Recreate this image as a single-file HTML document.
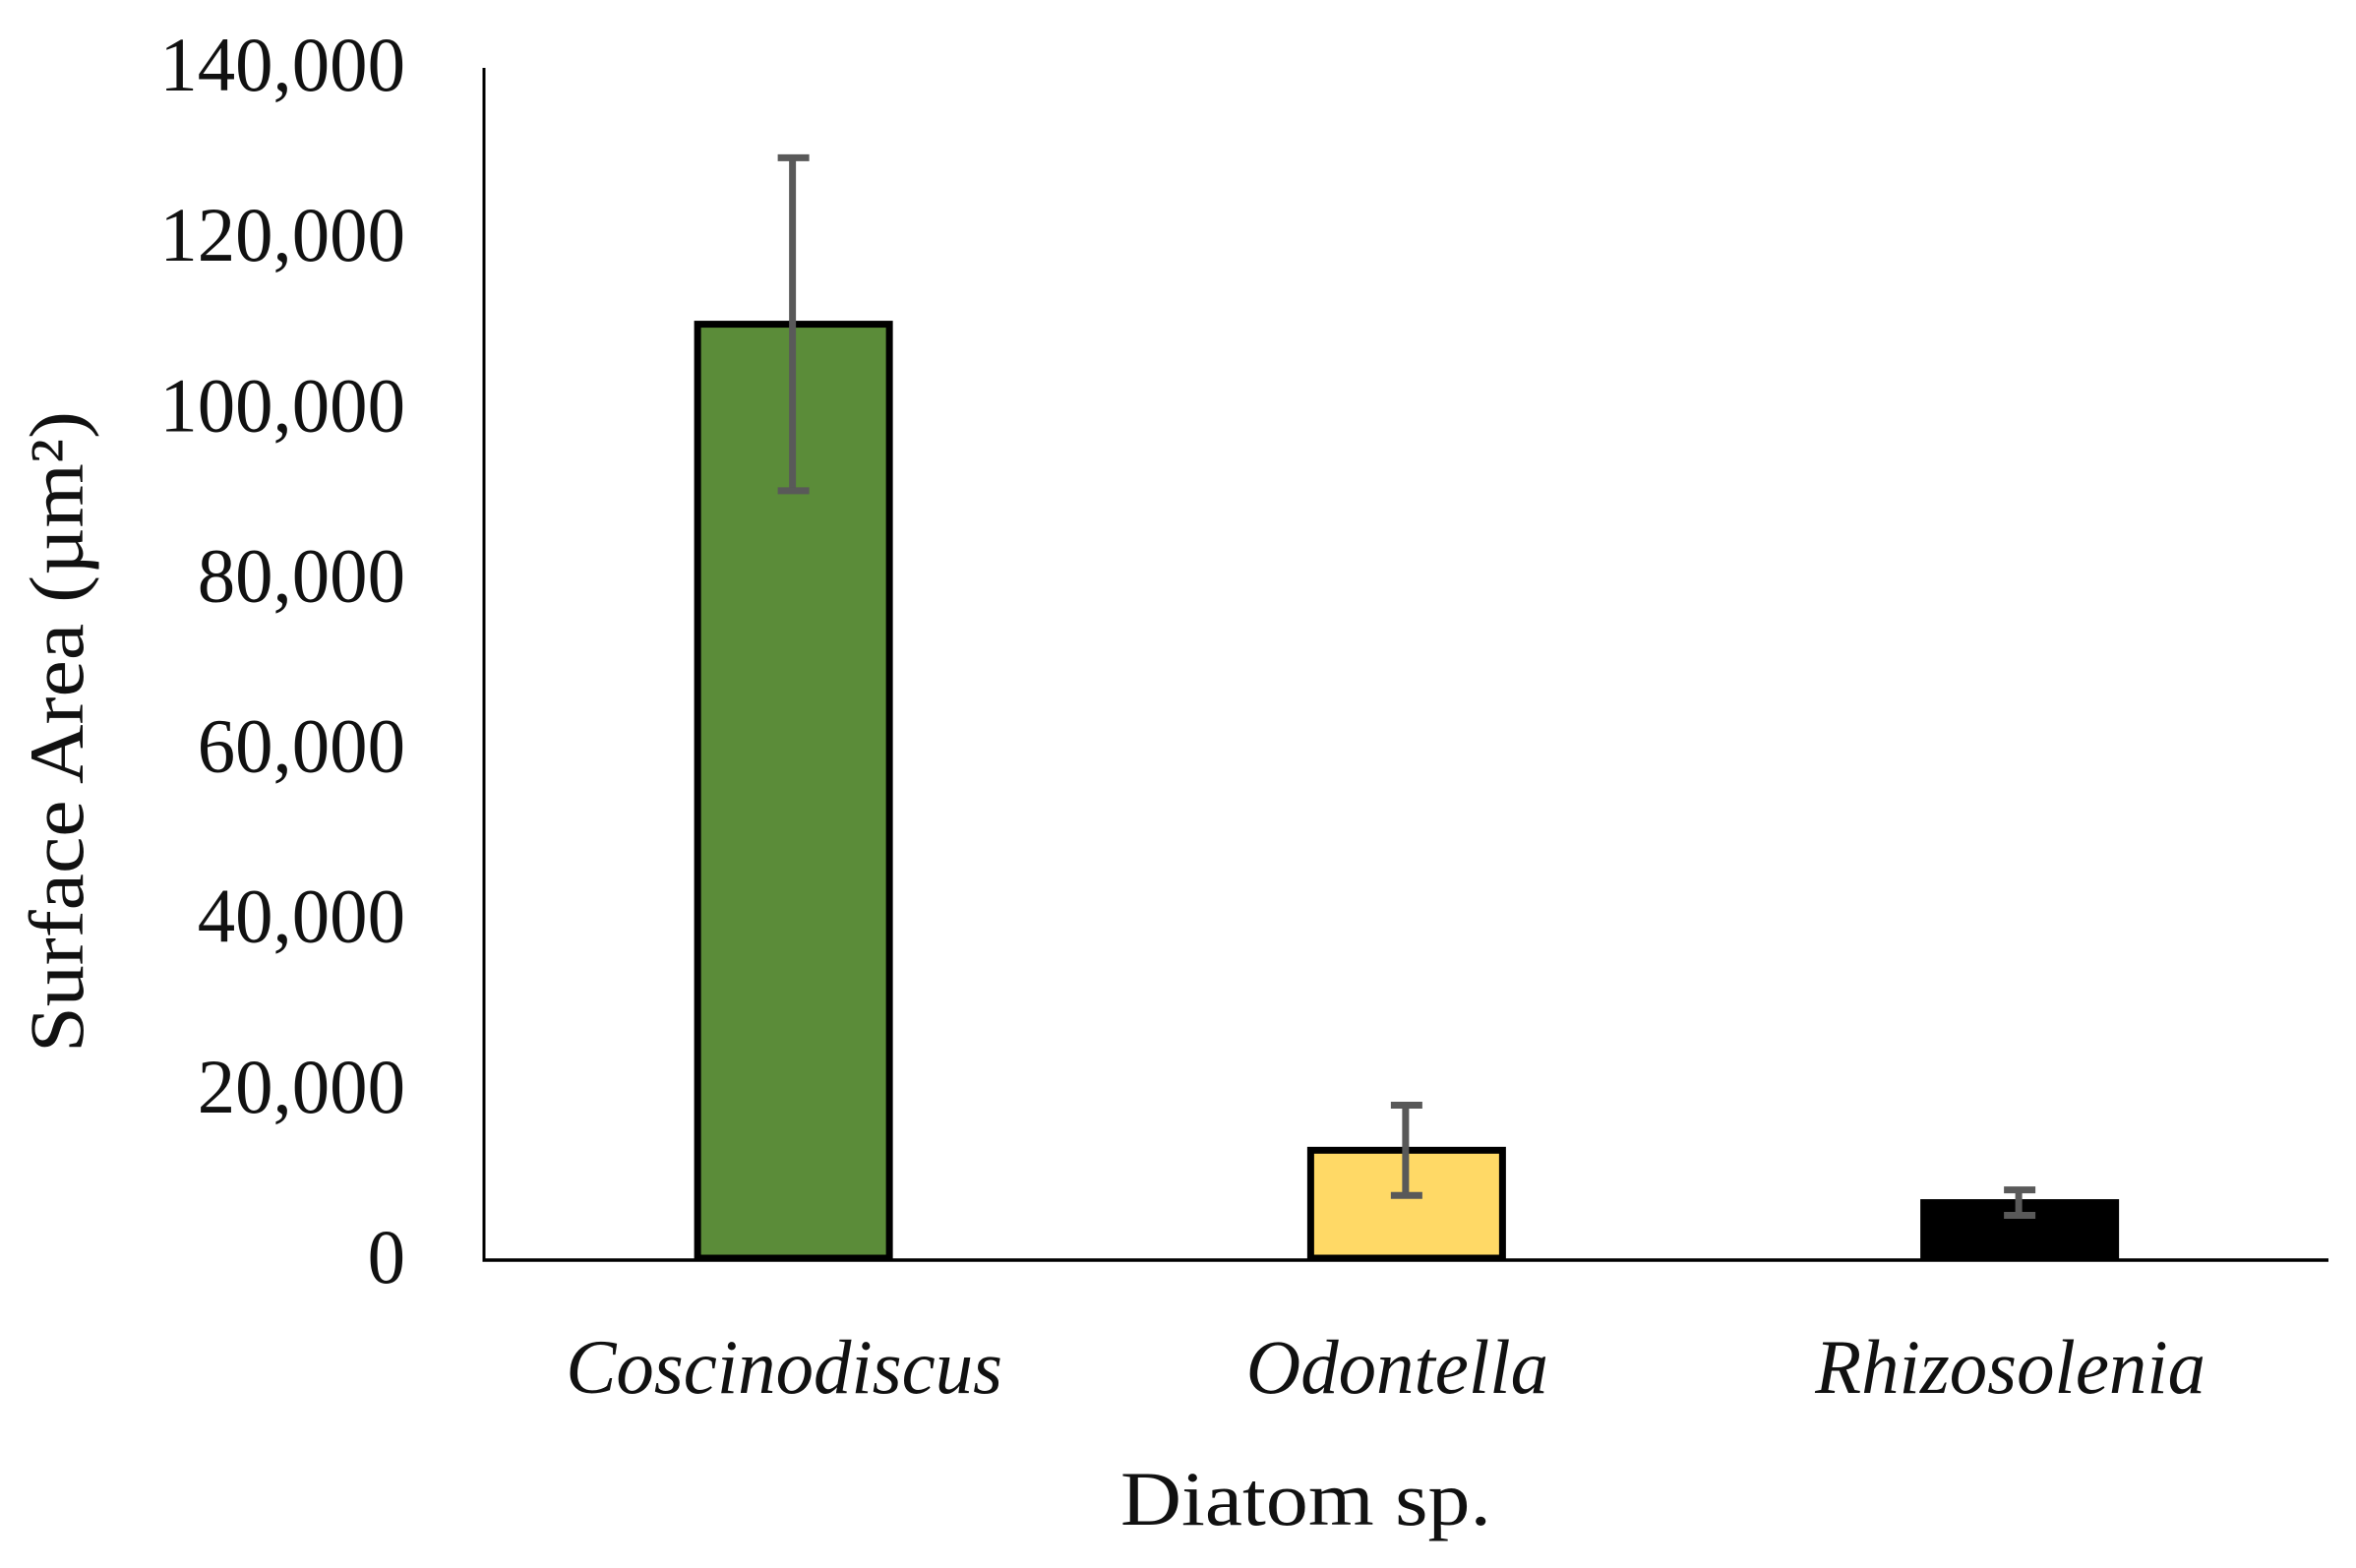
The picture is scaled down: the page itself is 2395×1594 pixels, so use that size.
<!DOCTYPE html>
<html lang="en">
<head>
<meta charset="utf-8">
<title>Diatom surface area</title>
<style>
  html, body { margin: 0; padding: 0; background: #ffffff; }
  #chart { display: block; width: 2395px; height: 1594px; }
  text { font-family: "Liberation Serif", serif; fill: #111111; font-size: 78px; }
</style>
</head>
<body>
<svg id="chart" xmlns="http://www.w3.org/2000/svg" width="2395" height="1594" viewBox="0 0 2395 1594"></svg>
<script>
const categories = ["Coscinodiscus", "Odontella", "Rhizosolenia"];
const meanValues = [109900, 12900, 6750];
const errorValues = [19550, 5300, 1500];
const tickValues = [0, 20000, 40000, 60000, 80000, 100000, 120000, 140000];
const tickLabels = ["0", "20,000", "40,000", "60,000", "80,000", "100,000", "120,000", "140,000"];

const barFills = ["#5b8c39", "#ffd966", "#000000"];
const plot = { left: 492, right: 2367, top: 69, bottom: 1281, max: 140000, bandStart: 495, bandWidth: 623.25 };
const svg = document.getElementById("chart");
const NS = "http://www.w3.org/2000/svg";

function yScale(v) {
  return plot.bottom - (v / plot.max) * (plot.bottom - plot.top);
}
function xCenter(i) {
  return plot.bandStart + (i + 0.5) * plot.bandWidth;
}
function make(tag, attrs, parent) {
  const el = document.createElementNS(NS, tag);
  for (const k in attrs) el.setAttribute(k, attrs[k]);
  (parent || svg).appendChild(el);
  return el;
}
function slug(s) {
  return s.toLowerCase().replace(/[^a-z0-9]+/g, "-");
}

/* bars (below the axis line) */
categories.forEach(function (name, i) {
  const c = xCenter(i);
  const top = yScale(meanValues[i]);
  const bar = make("rect", {
    x: c - 97.5, y: top, width: 195, height: plot.bottom - 2 - top,
    fill: barFills[i], stroke: "#000000", "stroke-width": 7
  });
  
  
});

/* axes */
const yAxis = make("line", { x1: plot.left, x2: plot.left, y1: plot.top, y2: plot.bottom + 1.5, stroke: "#000000", "stroke-width": 3 });


const xAxis = make("line", { x1: plot.left - 1.5, x2: plot.right, y1: plot.bottom, y2: plot.bottom, stroke: "#000000", "stroke-width": 3.5 });



/* error bars */
categories.forEach(function (name, i) {
  const c = xCenter(i);
  const hi = yScale(meanValues[i] + errorValues[i]);
  const lo = yScale(meanValues[i] - errorValues[i]);
  const capHalf = 16;
  const g = make("g", { stroke: "#595959", "stroke-width": 7, fill: "none" });
  
  
  make("line", { x1: c - 1, x2: c - 1, y1: hi, y2: lo }, g);
  make("line", { x1: c - capHalf, x2: c + capHalf, y1: hi, y2: hi }, g);
  make("line", { x1: c - capHalf, x2: c + capHalf, y1: lo, y2: lo }, g);
});

/* y tick labels */
tickValues.forEach(function (v, i) {
  const t = make("text", {
    transform: "translate(412," + (yScale(v) + 23) + ") scale(0.985,1)",
    "text-anchor": "end"
  });
  t.textContent = tickLabels[i];
  
  
});

/* category labels */
categories.forEach(function (name, i) {
  const t = make("text", {
    transform: "translate(" + (xCenter(i) - 9.5) + ",1416) scale(0.985,1)",
    "text-anchor": "middle",
    "font-style": "italic"
  });
  t.textContent = name;
  
  
});

/* axis titles */
const xTitle = make("text", { x: 1139, y: 1550, textLength: 377, lengthAdjust: "spacingAndGlyphs" });
xTitle.textContent = "Diatom sp.";



const yTitle = make("text", {
  transform: "translate(84,1070) rotate(-90)",
  x: 0, y: 0, textLength: 652, lengthAdjust: "spacingAndGlyphs"
});
yTitle.textContent = "Surface Area (µm²)";


</script>
</body>
</html>
